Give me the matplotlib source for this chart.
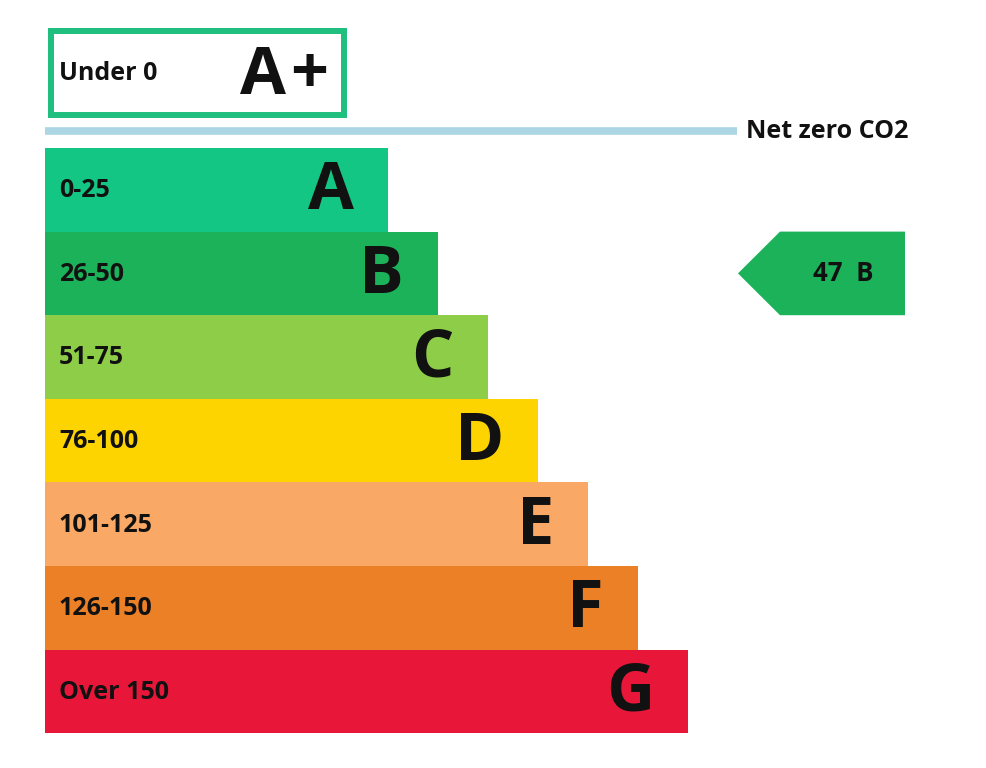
import matplotlib
matplotlib.use('Agg')
import matplotlib.pyplot as plt
from matplotlib.patches import Rectangle, Polygon

plt.rcParams['font.family'] = ['Open Sans', 'DejaVu Sans']

# Bands of the rating scale
bands = ['A', 'B', 'C', 'D', 'E', 'F', 'G']
ranges = ['0-25', '26-50', '51-75', '76-100', '101-125', '126-150', 'Over 150']
colors = ['#14c684', '#1bb25a', '#8ecd47', '#fdd400', '#f9a865', '#ec8027', '#e8173a']

top_band = 'A+'
top_range = 'Under 0'
top_color = '#1fbf7f'
line_label = 'Net zero CO2'
line_color = '#acd6e3'

current_value = 47
current_band = 'B'

W, H = 987, 768
fig = plt.figure(figsize=(W / 100, H / 100), dpi=100)
ax = fig.add_axes([0, 0, 1, 1])
ax.set_xlim(0, W)
ax.set_ylim(H, 0)
ax.axis('off')

x0 = 45
bar_h = 83.6
y_top = 148
base_len = 343
step = 50
small = 18
big = 48

for i, (band, rng, col) in enumerate(zip(bands, ranges, colors)):
    y = y_top + i * bar_h
    length = base_len + step * i
    ax.add_patch(Rectangle((x0, y), length, bar_h, facecolor=col, edgecolor='none'))
    ax.text(x0 + 14, y + bar_h / 2 + 1, rng, fontsize=small, fontweight='bold',
            va='center', ha='left', color='#111111')
    ax.text(x0 + length - 34, y + bar_h / 2 + 2, band, fontsize=big, fontweight='bold',
            va='center', ha='right', color='#111111')

# A+ box
ax.add_patch(Rectangle((51, 31), 293, 84, facecolor='white', edgecolor=top_color, linewidth=4.3))
ax.text(59, 73, top_range, fontsize=small, fontweight='bold', va='center', ha='left', color='#111111')
ax.text(286, 76, top_band[0], fontsize=big, fontweight='bold', va='center', ha='right', color='#111111')
ax.text(309, 76, top_band[1], fontsize=big, fontweight='bold', va='center', ha='center', color='#111111')

# net zero line
ax.plot([45, 737], [131, 131], color=line_color, linewidth=5.5, solid_capstyle='butt')
ax.text(746, 131, line_label, fontsize=small, fontweight='bold', va='center', ha='left', color='#111111')

# current rating arrow
bi = bands.index(current_band)
ay = y_top + bi * bar_h
arrow = Polygon([(738, ay + bar_h / 2), (780, ay), (905, ay), (905, ay + bar_h), (780, ay + bar_h)],
                closed=True, facecolor=colors[bi], edgecolor='none')
ax.add_patch(arrow)
ax.text(843, ay + bar_h / 2, '%d  %s' % (current_value, current_band), fontsize=18.5,
        fontweight='bold', va='center', ha='center', color='#111111')

fig.savefig('out.png', dpi=100, facecolor='white')
